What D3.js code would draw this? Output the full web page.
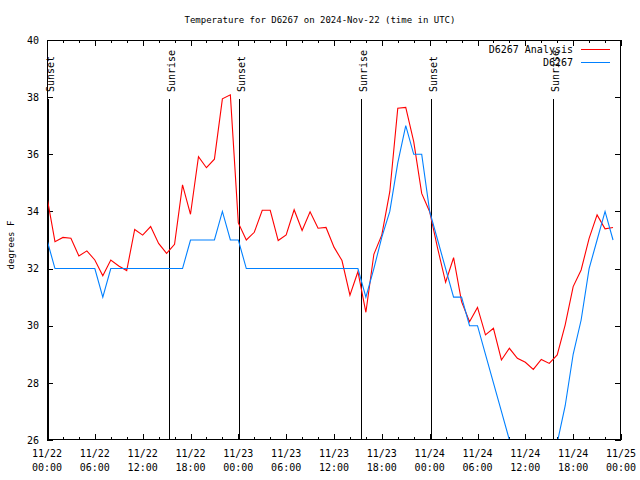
<!DOCTYPE html>
<html><head><meta charset="utf-8">
<script src="https://cdn.jsdelivr.net/npm/d3@7"></script>
<style>
body{margin:0;background:#fff;}
text{font-family:"DejaVu Sans Mono","Liberation Mono",monospace;font-size:10px;fill:#000;}
</style></head><body>
<svg id="c" width="640" height="480"></svg>
<script>
// ---- data ----
const startTime = "2024-11-22T00:00:00Z";
const hours = d3.range(72); // hourly samples since start
const analysis = [34.5,32.94,33.09,33.06,32.44,32.62,32.30,31.75,32.30,32.09,31.93,33.37,
  33.17,33.47,32.88,32.53,32.85,34.93,33.9,35.92,35.53,35.83,37.94,38.08,
  33.6,33.0,33.27,34.04,34.04,32.98,33.18,34.06,33.33,33.99,33.41,33.44,
  32.75,32.28,31.07,31.89,30.47,32.50,33.18,34.69,37.61,37.64,36.44,34.63,
  33.99,32.71,31.52,32.38,30.84,30.14,30.64,29.68,29.91,28.80,29.21,28.86,
  28.72,28.47,28.82,28.68,28.98,30.03,31.37,31.95,33.06,33.88,33.39,33.44];
const station = [33,32,32,32,32,32,32,31,32,32,32,32,
  32,32,32,32,32,32,33,33,33,33,34,33,
  33,32,32,32,32,32,32,32,32,32,32,32,
  32,32,32,32,31,32,33.1,34.0,35.7,37,36,36,
  34,33,32,31,31,30,30,29,28,27,26,25,
  24,24,24,25,25.9,27.2,29.0,30.2,32.0,33.0,34.0,33.0];
const sunTimes = ["2024-11-22T00:10:00Z","2024-11-22T15:20:00Z","2024-11-23T00:08:00Z",
  "2024-11-23T15:26:00Z","2024-11-24T00:11:00Z","2024-11-24T15:31:00Z"];
const sunLabels = ["Sunset","Sunrise","Sunset","Sunrise","Sunset","Sunrise"];
const yTicks = [26,28,30,32,34,36,38,40];
const seriesNames = ["D6267 Analysis","D6267"];
const seriesColors = ["#ff0000","#0080ff"];
const titleText = "Temperature for D6267 on 2024-Nov-22 (time in UTC)";
const yLabel = "degrees F";

// ---- layout ----
const L=47,R=621,T=40,B=440;
const svg=d3.select("#c");
const t0=new Date(startTime);
const x=d3.scaleUtc().domain([t0,d3.utcHour.offset(t0,72)]).range([L,R]);
const y=d3.scaleLinear().domain([26,40]).range([B,T]);
const tAt=h=>d3.utcHour.offset(t0,h);

svg.append("defs").append("clipPath").attr("id","clip")
  .append("rect").attr("x",L).attr("y",T).attr("width",R-L).attr("height",B-T);

// title
svg.append("text").attr("x",320).attr("y",23).attr("text-anchor","middle")
  .style("font-size","9px").text(titleText);

// axes
const majors=d3.utcHour.every(6).range(t0,d3.utcHour.offset(t0,73));
const minors=d3.utcHour.every(2).range(t0,d3.utcHour.offset(t0,73));
const fmtD=d3.utcFormat("%m/%d"), fmtH=d3.utcFormat("%H:%M");
const xb=svg.append("g").attr("transform",`translate(0,${B})`)
  .call(d3.axisBottom(x).tickValues(minors).tickSize(-3).tickFormat(""));
const xb2=svg.append("g").attr("transform",`translate(0,${B})`)
  .call(d3.axisBottom(x).tickValues(majors).tickSize(-6).tickFormat(""));
const xt=svg.append("g").attr("transform",`translate(0,${T})`)
  .call(d3.axisTop(x).tickValues(minors).tickSize(-3).tickFormat(""));
const xt2=svg.append("g").attr("transform",`translate(0,${T})`)
  .call(d3.axisTop(x).tickValues(majors).tickSize(-6).tickFormat(""));
const yl=svg.append("g").attr("transform",`translate(${L},0)`)
  .call(d3.axisLeft(y).tickValues(yTicks).tickSize(-6).tickPadding(8).tickFormat(d3.format("d")));
const yr=svg.append("g").attr("transform",`translate(${R},0)`)
  .call(d3.axisRight(y).tickValues(yTicks).tickSize(-6).tickFormat(""));
[xb,xb2,xt,xt2,yl,yr].forEach(g=>{
  g.select(".domain").remove();
  g.selectAll("line").attr("stroke","#000").attr("shape-rendering","crispEdges");
});
yl.selectAll("text").attr("font-size",null).attr("font-family",null);
// x labels two lines
const lab=svg.append("g");
majors.forEach(d=>{
  const tx=lab.append("text").attr("x",x(d)).attr("text-anchor","middle");
  tx.append("tspan").attr("x",x(d)).attr("y",457).text(fmtD(d));
  tx.append("tspan").attr("x",x(d)).attr("y",471).text(fmtH(d));
});

// y label
svg.append("text").attr("transform","translate(14,245) rotate(-90)")
  .attr("text-anchor","middle").style("font-size","9px").text(yLabel);

// sun lines
sunTimes.forEach((s,i)=>{
  const sx=Math.round(x(new Date(s)))+0.5;
  svg.append("line").attr("x1",sx).attr("x2",sx).attr("y1",99).attr("y2",B)
    .attr("stroke","#000").attr("stroke-width",1);
  svg.append("text").attr("transform",`translate(${sx+5},92) rotate(-90)`)
    .attr("text-anchor","start").text(sunLabels[i]);
});

// data lines
const line=d3.line().x((d,i)=>x(tAt(hours[i]))).y(d=>y(d));
const g=svg.append("g").attr("clip-path","url(#clip)");
g.append("path").datum(analysis).attr("d",line).attr("fill","none")
  .attr("stroke",seriesColors[0]).attr("stroke-width",1.1);
g.append("path").datum(station).attr("d",line).attr("fill","none")
  .attr("stroke",seriesColors[1]).attr("stroke-width",1.1);

// legend
seriesNames.forEach((n,i)=>{
  const ly=49.5+i*13;
  svg.append("text").attr("x",573).attr("y",ly+3.5).attr("text-anchor","end").text(n);
  svg.append("line").attr("x1",581).attr("x2",610).attr("y1",ly).attr("y2",ly)
    .attr("stroke",seriesColors[i]).attr("stroke-width",1);
});

// border
svg.append("rect").attr("x",L+0.5).attr("y",T+0.5).attr("width",R-L-1).attr("height",B-T-1)
  .attr("fill","none").attr("stroke","#000").attr("shape-rendering","crispEdges");
</script></body></html>
